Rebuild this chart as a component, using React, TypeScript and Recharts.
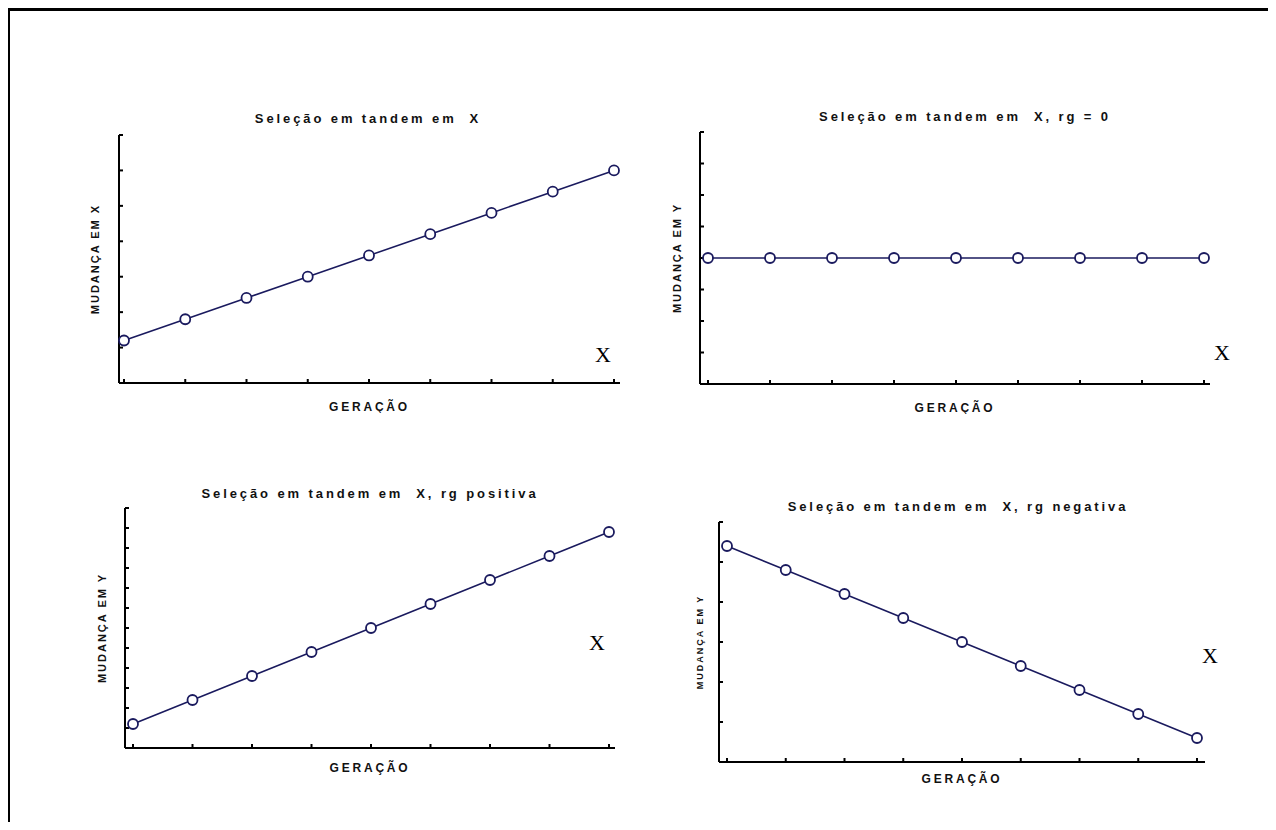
import { LineChart, Line, XAxis, YAxis, Label } from 'recharts'

// geração 1..9
const geracao = [1, 2, 3, 4, 5, 6, 7, 8, 9]

// mudança em X (seleção em X)
const mudancaX = [1.2, 1.8, 2.4, 3.0, 3.6, 4.2, 4.8, 5.4, 6.0]
// mudança em Y, rg = 0
const mudancaYZero = [0, 0, 0, 0, 0, 0, 0, 0, 0]
// mudança em Y, rg positiva
const mudancaYPos = [1.2, 2.4, 3.6, 4.8, 6.0, 7.2, 8.4, 9.6, 10.8]
// mudança em Y, rg negativa
const mudancaYNeg = [5.4, 4.8, 4.2, 3.6, 3.0, 2.4, 1.8, 1.2, 0.6]

const ticksX7 = [0, 1, 2, 3, 4, 5, 6, 7]
const ticksZero = [-4, -3, -2, -1, 0, 1, 2, 3, 4]
const ticksPos = [0, 1, 2, 3, 4, 5, 6, 7, 8, 9, 10, 11, 12]
const ticksNeg = [0, 1, 2, 3, 4, 5, 6]

const titles = [
    'Seleção em tandem em  X',
    'Seleção em tandem em  X, rg = 0',
    'Seleção em tandem em  X, rg positiva',
    'Seleção em tandem em  X, rg negativa',
]
const yLabels = ['MUDANÇA EM X', 'MUDANÇA EM Y', 'MUDANÇA EM Y', 'MUDANÇA EM Y']
const xLabel = 'GERAÇÃO'

const NAVY = '#1a1a5e'
const FONT = '"Liberation Sans", Arial, sans-serif'
const YW = 40
const TM = 6
const RM = 8
const XH = 30

// no tick text, only the tick marks
const NoText = () => <g />

type PanelProps = {
    values: number[]
    yTicks: number[]
    yLabel: string
    title: string
    box: { l: number; t: number; r: number; b: number }
    pad: [number, number]
    titlePos: [number, number]
    markPos: [number, number]
    yLabelOffset: number
    xLabelOffset: number
    yLabelSize?: number
}

function Panel({ values, yTicks, yLabel, title, box, pad, titlePos, markPos, yLabelOffset, xLabelOffset, yLabelSize = 11 }: PanelProps) {
    const data = geracao.map((g, i) => ({ g, v: values[i] }))
    const w = YW + (box.r - box.l) + RM
    const h = TM + (box.b - box.t) + XH
    return (
        <>
            <div style={{
                position: 'absolute', left: titlePos[0] - 8, top: titlePos[1] - 8,
                transform: 'translate(-50%, -50%)', whiteSpace: 'pre',
                font: `bold 13px ${FONT}`, letterSpacing: 2.9, color: '#111'
            }}>{title}</div>
            <div style={{ position: 'absolute', left: box.l - 8 - YW, top: box.t - 8 - TM }}>
                <LineChart width={w} height={h} data={data} margin={{ top: TM, right: RM, left: 0, bottom: 0 }}>
                    <XAxis
                        type="number" dataKey="g" domain={[1, 9]} ticks={geracao} interval={0}
                        padding={{ left: pad[0], right: pad[1] }} height={XH}
                        tick={NoText} tickSize={-4}
                        axisLine={{ stroke: '#000', strokeWidth: 2 }}
                        tickLine={{ stroke: '#000', strokeWidth: 2 }}
                    >
                        <Label value={xLabel} position="insideBottom" offset={xLabelOffset}
                            style={{ font: `bold 12px ${FONT}`, letterSpacing: 2.8, fill: '#111' }} />
                    </XAxis>
                    <YAxis
                        type="number" domain={[yTicks[0], yTicks[yTicks.length - 1]]} ticks={yTicks} interval={0}
                        width={YW} tick={NoText} tickSize={-4}
                        axisLine={{ stroke: '#000', strokeWidth: 2 }}
                        tickLine={{ stroke: '#000', strokeWidth: 2 }}
                    >
                        <Label value={yLabel} angle={-90} position="insideLeft" offset={yLabelOffset}
                            style={{ textAnchor: 'middle', font: `bold ${yLabelSize}px ${FONT}`, letterSpacing: 2, fill: '#111' }} />
                    </YAxis>
                    <Line
                        type="linear" dataKey="v" stroke={NAVY} strokeWidth={1.6}
                        dot={{ r: 5, stroke: NAVY, strokeWidth: 1.8, fill: '#fff' }}
                        isAnimationActive={false}
                    />
                </LineChart>
            </div>
            <div style={{
                position: 'absolute', left: markPos[0] - 8, top: markPos[1] - 8,
                transform: 'translate(-50%, -50%)',
                font: '22px "Liberation Serif", "Times New Roman", serif', color: '#000'
            }}>X</div>
        </>
    )
}

export default function App() {
    return (
        <div style={{ position: 'relative', width: 1268, height: 814, background: '#fff' }}>
            <div style={{
                position: 'absolute', left: -1, top: 0, width: 1269, height: 822,
                borderTop: '3px solid #000', borderLeft: '3px solid #000', boxSizing: 'border-box'
            }} />
            <Panel values={mudancaX} yTicks={ticksX7} yLabel={yLabels[0]} title={titles[0]}
                box={{ l: 119, t: 135, r: 620, b: 383 }} pad={[5, 6]}
                titlePos={[368, 118]} markPos={[603, 355]} yLabelOffset={16} xLabelOffset={2} />
            <Panel values={mudancaYZero} yTicks={ticksZero} yLabel={yLabels[1]} title={titles[1]}
                box={{ l: 700, t: 132, r: 1210, b: 384 }} pad={[8, 6]}
                titlePos={[965, 116]} markPos={[1222, 353]} yLabelOffset={17} xLabelOffset={2} />
            <Panel values={mudancaYPos} yTicks={ticksPos} yLabel={yLabels[2]} title={titles[2]}
                box={{ l: 125, t: 508, r: 615, b: 748 }} pad={[8, 6]}
                titlePos={[370, 493]} markPos={[597, 643]} yLabelOffset={17} xLabelOffset={6} />
            <Panel values={mudancaYNeg} yTicks={ticksNeg} yLabel={yLabels[3]} title={titles[3]}
                box={{ l: 719, t: 522, r: 1205, b: 762 }} pad={[8, 8]}
                titlePos={[958, 506]} markPos={[1210, 656]} yLabelOffset={21} xLabelOffset={9} yLabelSize={9} />
        </div>
    )
}
